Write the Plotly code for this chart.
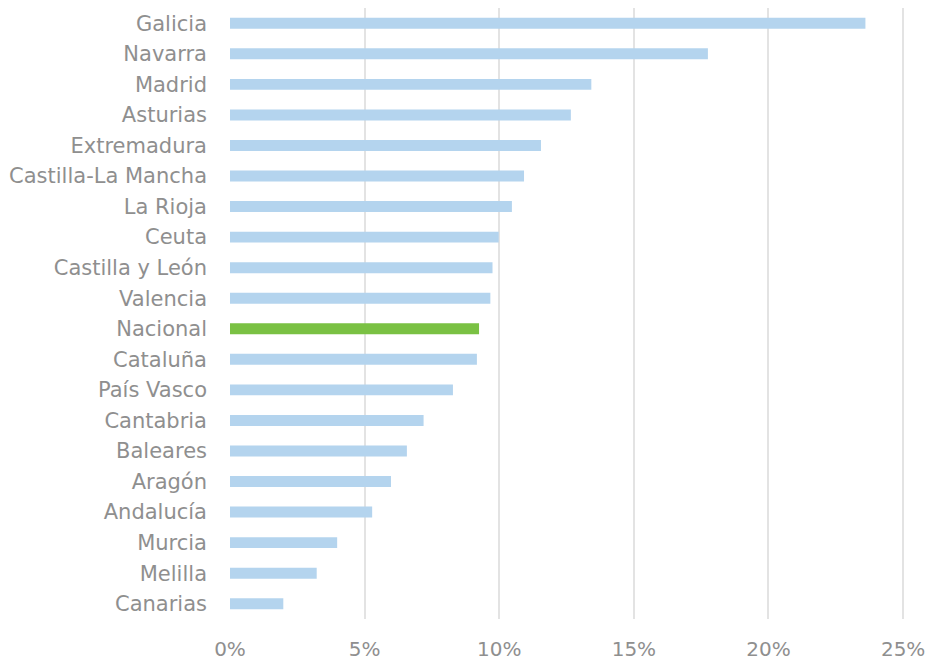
import plotly.graph_objects as go

regions = ["Galicia", "Navarra", "Madrid", "Asturias", "Extremadura",
           "Castilla-La Mancha", "La Rioja", "Ceuta", "Castilla y León",
           "Valencia", "Nacional", "Cataluña", "País Vasco", "Cantabria",
           "Baleares", "Aragón", "Andalucía", "Murcia", "Melilla", "Canarias"]
shares = [0.2360, 0.1775, 0.1342, 0.1266, 0.1155, 0.1092, 0.1047, 0.0998,
          0.0975, 0.0967, 0.0925, 0.0917, 0.0828, 0.0719, 0.0657, 0.0598,
          0.0528, 0.0398, 0.0322, 0.0198]
tick_vals = [0, 0.05, 0.10, 0.15, 0.20, 0.25]

BLUE = "#b4d4ee"
GREEN = "#7ac143"
colors = [GREEN if r == "Nacional" else BLUE for r in regions]

fig = go.Figure(go.Bar(
    x=shares, y=regions, orientation="h",
    marker=dict(color=colors, line=dict(width=0)),
    width=0.36,
))

fig.update_layout(
    width=925, height=661,
    margin=dict(l=230, r=20, t=8, b=42),
    paper_bgcolor="white", plot_bgcolor="white",
    font=dict(family="DejaVu Sans", size=20, color="#8f8f8f"),
    showlegend=False,
    xaxis=dict(range=[0, 0.2507], tickvals=tick_vals, tickformat=".0%",
               tickfont=dict(size=20),
               showgrid=True, gridcolor="#e3e3e3", gridwidth=2,
               zeroline=False, showline=False, ticks="",
               ticklabelstandoff=16, ticklabeloverflow="allow",
               automargin=False, fixedrange=True),
    yaxis=dict(categoryorder="array", categoryarray=regions,
               autorange="reversed", showgrid=False, zeroline=False,
               tickfont=dict(size=21),
               showline=False, ticks="", ticklabelstandoff=22,
               automargin=False),
)

fig.write_html("out.html")
